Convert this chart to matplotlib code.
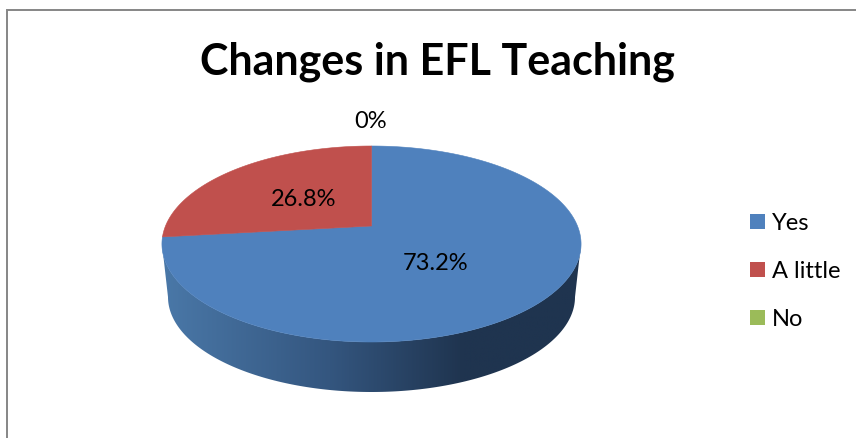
"""Changes in EFL Teaching: 3D-looking pie drawn by hand with a perspective projection."""
import numpy as np
import matplotlib
matplotlib.use("Agg")
import matplotlib.pyplot as plt
from matplotlib.patches import Polygon, Rectangle
from matplotlib.colors import LinearSegmentedColormap

TITLE = "Changes in EFL Teaching"
categories = ["Yes", "A little", "No"]
values = [73.2, 26.8, 0.0]
slice_labels = ["73.2%", "26.8%", "0%"]
colors = ["#4F81BD", "#C0504D", "#9BBB59"]

WIDTH, HEIGHT = 856, 438
FONT = "Lato"

# Pie geometry in image pixels.
HUB_X, HUB_Y = 371.5, 226.0
RX, RY, TILT = 206.0, 94.7, 0.1837
WALL_CX, WALL_CY, WALL_RX, WALL_RY = 371.5, 297.0, 203.5, 95.0
LABEL_POS = [(436, 263.5), (304, 199.5), (371, 122)]


def project(theta):
    """Clockwise angle from 12 o'clock -> pixel position on the tilted rim."""
    x, y = np.sin(theta), np.cos(theta)
    denom = 1 + TILT * y
    return HUB_X + RX * x / denom, HUB_Y - RY * y / denom


fig = plt.figure(figsize=(WIDTH / 100, HEIGHT / 100), dpi=100)
ax = fig.add_axes([0, 0, 1, 1])
ax.axis("off")

# Side wall: gradient clipped to the band between the two lower rims.
t = np.linspace(0, np.pi, 200)
wall_x = WALL_CX + WALL_RX * np.cos(t)
wall_y = WALL_CY + WALL_RY * np.sin(t)
rim_x = WALL_CX + 209.5 * np.cos(t[::-1])
rim_y = 244.0 + 98.0 * np.sin(t[::-1])
wall = Polygon(np.column_stack([np.r_[wall_x, rim_x], np.r_[wall_y, rim_y]]),
               closed=True, facecolor="none", edgecolor="none")
ax.add_patch(wall)
cmap = LinearSegmentedColormap.from_list(
    "wall", [(0, "#4A78A8"), (0.4, "#34567F"), (0.72, "#1F344F"), (1, "#1F344F")])
img = ax.imshow(np.linspace(0, 1, 256).reshape(1, -1), cmap=cmap, aspect="auto",
                extent=(162, 581, 395, 240), zorder=1)
img.set_clip_path(wall)

# Top face slices, clockwise from 12 o'clock.
start = 0.0
total = sum(values)
for value, color in zip(values, colors):
    if value > 0:
        stop = start + 2 * np.pi * value / total
        th = np.linspace(start, stop, 300)
        xs, ys = project(th)
        ax.add_patch(Polygon(np.column_stack([np.r_[HUB_X, xs], np.r_[HUB_Y, ys]]),
                             closed=True, facecolor=color, edgecolor=color,
                             linewidth=0.4, zorder=2))
        start = stop

for label, (lx, ly) in zip(slice_labels, LABEL_POS):
    ax.text(lx, ly, label, fontsize=17, family=FONT, color="black",
            ha="center", va="center", zorder=3)

ax.text(437.5, 62, TITLE, fontsize=31, family=FONT, fontweight="bold",
        color="black", ha="center", va="center")

# Legend.
for i, (name, color) in enumerate(zip(categories, colors)):
    ty = 221.5 + i * 48
    ax.add_patch(Rectangle((750, ty - 7.5), 15, 15, facecolor=color, edgecolor="none"))
    ax.text(772, ty + 1.5, name, fontsize=17, family=FONT, color="black",
            ha="left", va="center")

# Chart frame, cut off by the right and bottom of the picture.
ax.plot([7, 7, WIDTH], [HEIGHT, 10, 10], color="#868686", linewidth=1.4,
        solid_joinstyle="miter")

ax.set_xlim(0, WIDTH)
ax.set_ylim(HEIGHT, 0)
fig.savefig("out.png", dpi=100)
